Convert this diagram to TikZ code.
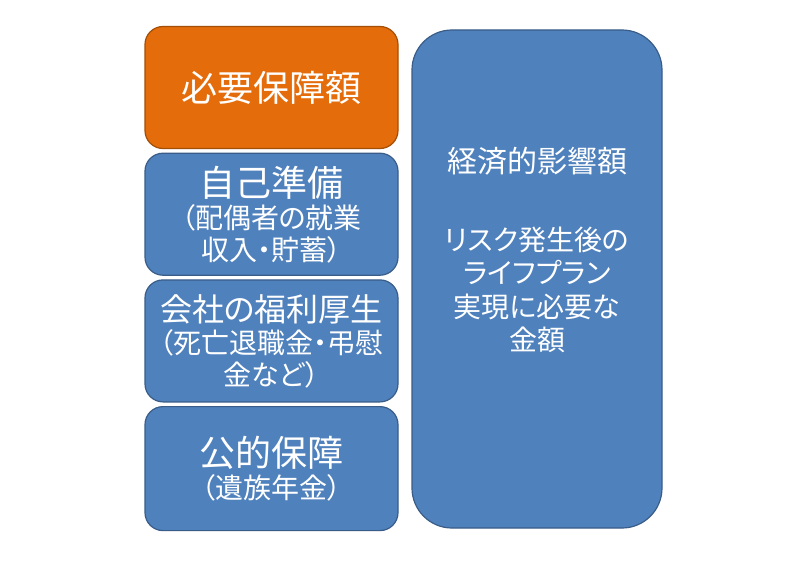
\documentclass[tikz,border=0pt]{standalone}
\usepackage{fontspec}
\setmainfont[RawFeature=+palt]{Noto Sans CJK JP}
\usetikzlibrary{positioning}
\definecolor{needorange}{HTML}{E46C0A}
\definecolor{coverblue}{HTML}{4F81BD}
\tikzset{
  blockbox/.style={draw=#1!72!black, fill=#1, line width=1.2pt,
    rounded corners=18pt, text=white, align=center, inner sep=0pt,
    minimum width=253pt, minimum height=122pt,
    font=\fontsize{28}{32}\selectfont}
}
\begin{document}
\begin{tikzpicture}[x=1pt,y=-1pt]
  \useasboundingbox[fill=white] (0,0) rectangle (800,578);
  \node[blockbox=needorange, font=\fontsize{36}{36}\selectfont] (need) at (271.5,87.5)
    {\raisebox{-4pt}{必要保障額}};
  \node[blockbox=coverblue, below=3.5pt of need] (self)
    {{\fontsize{36}{36}\selectfont 自己準備}\\（配偶者の就業\\収入・貯蓄）};
  \node[blockbox=coverblue, below=3.5pt of self] (company)
    {{\fontsize{32}{36}\selectfont 会社の福利厚生}\\（死亡退職金・弔慰\\金など）};
  \node[blockbox=coverblue, below=3.5pt of company, minimum height=124pt] (public)
    {\raisebox{-6pt}{\shortstack{{\fontsize{36}{36}\selectfont 公的保障}\\[2pt]（遺族年金）}}};
  \node[blockbox=coverblue, rounded corners=40pt, minimum width=250pt,
    minimum height=498pt] (impact) at (537,279) {};
  \node[text=white, align=center, font=\fontsize{28}{33.5}\selectfont]
    (impacttext) at (537,250)
    {{\fontsize{30}{33.5}\selectfont 経済的影響額}\\[44pt]リスク発生後の\\ライフプラン\\実現に必要な\\金額};
\end{tikzpicture}
\end{document}
